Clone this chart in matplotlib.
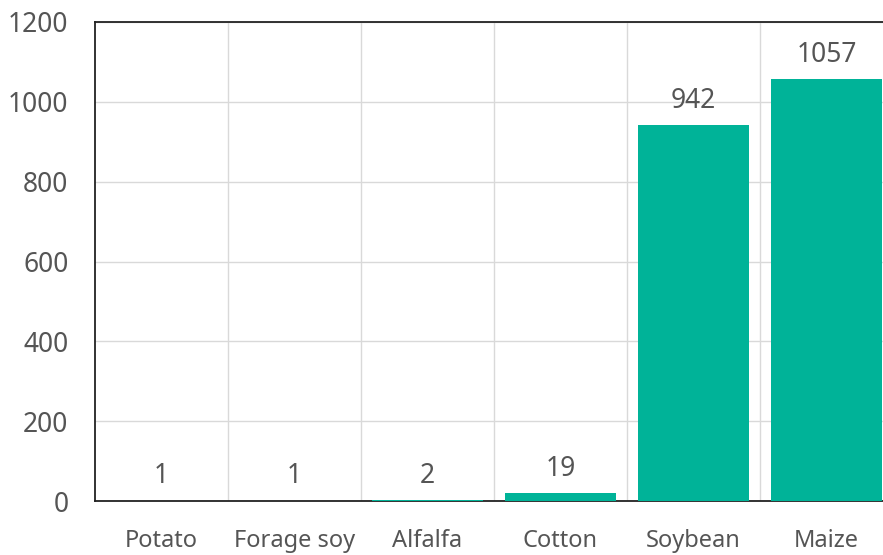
import matplotlib
matplotlib.use('Agg')
import matplotlib.pyplot as plt
import numpy as np

crops = ["Potato", "Forage soy", "Alfalfa", "Cotton", "Soybean", "Maize"]
values = [1, 1, 2, 19, 942, 1057]

plt.rcParams['font.family'] = ['Noto Sans', 'DejaVu Sans']
txt = '#555555'
teal = '#00b398'

fig = plt.figure(figsize=(8.83, 5.55), dpi=100)
ax = fig.add_axes([95/883, 54/555, 798/883, 479/555])

x = np.arange(len(crops))
ax.bar(x, values, width=0.83, color=teal, zorder=3)
for xi, v in zip(x, values):
    ax.text(xi, v + 26, str(v), ha='center', va='bottom', fontsize=19, color=txt, zorder=4)

ax.set_xlim(-0.5, len(crops) - 0.5)
ax.set_ylim(0, 1200)
ax.set_yticks(np.arange(0, 1201, 200))
ax.set_xticks(x)
ax.set_xticklabels(crops)
ax.set_xticks(np.arange(0.5, len(crops) - 0.5, 1), minor=True)
ax.grid(axis='y', which='major', color='#d9d9d9', lw=1, zorder=0)
ax.grid(axis='x', which='minor', color='#d9d9d9', lw=1, zorder=0)
ax.tick_params(which='both', length=0, labelcolor=txt)
ax.tick_params(axis='x', pad=20, labelsize=17)
ax.tick_params(axis='y', pad=19, labelsize=19)
for s in ax.spines.values():
    s.set_color('#222222')
    s.set_linewidth(1.3)

fig.savefig('out.png', dpi=100)
